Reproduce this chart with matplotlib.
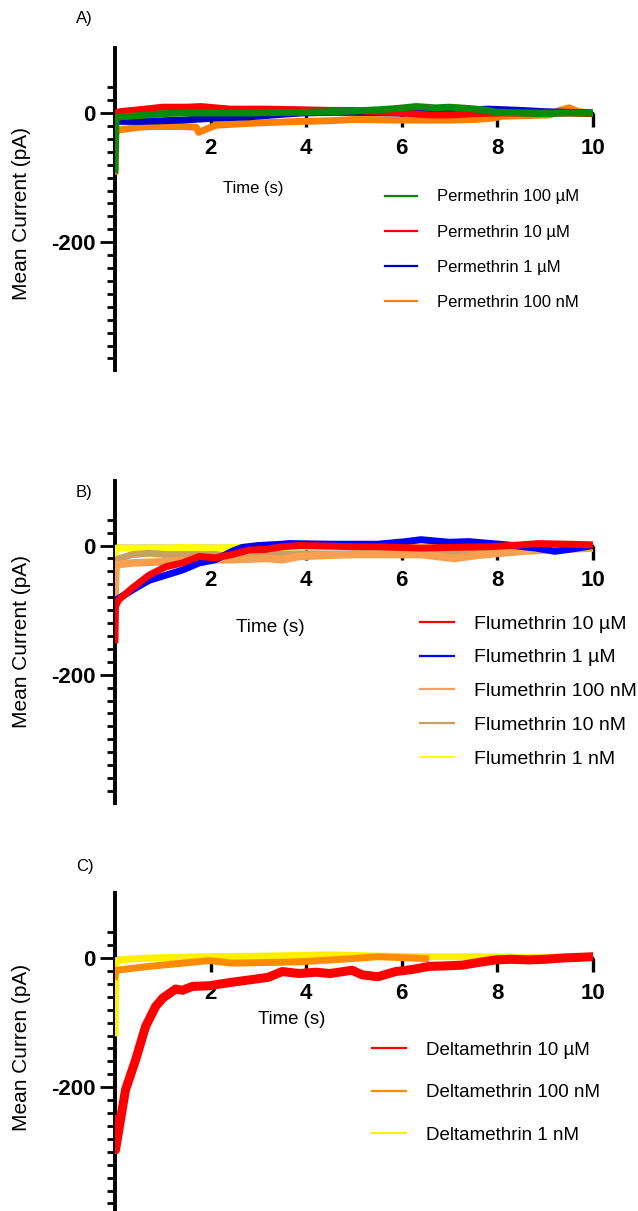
import matplotlib
matplotlib.use("Agg")
import matplotlib.pyplot as plt
from matplotlib.ticker import FixedLocator, FixedFormatter

plt.rcParams['font.family'] = ['Liberation Sans', 'DejaVu Sans']

W, H = 638, 1211

# ---------------- data ----------------
# Panel A: Permethrin
tA_100nM = [0, 0.02, 0.1, 0.5, 0.8, 1.4, 1.7, 1.75, 2.1, 2.8, 3.5, 3.9, 4.5, 5.0, 5.9, 7.0, 7.5, 7.9, 8.1, 8.6, 9.1, 9.3, 9.5, 9.7, 10]
vA_100nM = [-90, -28, -26, -22, -21, -21, -22, -30, -19, -16, -14, -13, -12, -10, -11, -11, -10, -8, -5, -4, -3, 4, 8, 2, 0]
tA_1uM = [0, 0.05, 0.5, 1.0, 1.4, 2.1, 2.8, 3.5, 3.9, 4.5, 5.0, 6.0, 7.0, 7.5, 7.8, 8.5, 9.0, 9.5, 10]
vA_1uM = [-15, -13, -13, -12, -11, -8, -6, -2, 0, 1, 1, 0, 2, 5, 6, 4, 2, 1, 0]
tA_10uM = [0, 0.02, 0.1, 0.5, 1.0, 1.5, 1.8, 2.4, 3.1, 3.9, 4.5, 5.0, 5.5, 6.0, 6.6, 7.0, 7.5, 8.0, 8.5, 9.0, 9.5, 10]
vA_10uM = [-5, 0, 2, 5, 9, 9, 10, 6, 6, 5, 4, 4, 2, 0, -3, -3, -1, 0, 0, 0, 0, -1]
tA_100uM = [0, 0.02, 0.1, 0.5, 0.7, 1.0, 1.4, 2.1, 2.8, 3.5, 3.9, 4.5, 5.0, 5.5, 5.9, 6.3, 6.7, 7.0, 7.4, 7.7, 8.0, 8.5, 9.0, 9.5, 10]
vA_100uM = [-88, -8, -6, -4, -3, -1, 0, 0, 0, 1, 1, 2, 3, 5, 7, 10, 8, 9, 7, 5, 1, 0, -1, 0, 0]

# Panel B: Flumethrin
tB_1nM = [0, 0.02, 0.5, 1.0, 1.5, 2.0, 2.5, 3.0, 4, 5, 6, 7, 7.3, 8, 9, 9.6, 10]
vB_1nM = [-20, -4, -4, -4, -3, -4, -3, -3, -2, -1, 0, 1, 3, 0, 0, 2, 0]
tB_10nM = [0, 0.02, 0.36, 0.71, 1.06, 1.41, 2.1, 2.45, 3.15, 3.85, 5, 6, 7, 8, 9, 10]
vB_10nM = [-80, -22, -14, -12, -14, -14, -14, -17, -14, -13, -13, -12, -13, -9, -5, -3]
tB_100nM = [0, 0.02, 0.36, 1.06, 1.76, 2.45, 3.15, 3.5, 3.85, 4.5, 5.0, 6.0, 6.4, 7.1, 7.6, 8.5, 9.2, 10]
vB_100nM = [-80, -30, -27, -25, -22, -22, -20, -22, -17, -15, -14, -14, -14, -20, -15, -9, -6, -4]
tB_1uM = [0, 0.03, 0.36, 0.71, 1.06, 1.41, 1.76, 2.1, 2.45, 2.66, 3.0, 3.5, 3.64, 4.5, 5.5, 6.08, 6.4, 7.0, 7.4, 8.2, 8.8, 9.2, 9.6, 10]
vB_1uM = [-90, -84, -69, -54, -46, -38, -27, -22, -9, -3, 0, 2, 3, 2, 2, 6, 9, 5, 6, 1, -4, -9, -5, 0]
tB_10uM = [0, 0.01, 0.08, 0.36, 0.71, 1.06, 1.41, 1.76, 2.1, 2.45, 2.8, 3.15, 3.5, 3.85, 4.5, 5.0, 5.5, 6.4, 7.0, 7.8, 8.5, 8.85, 9.5, 10]
vB_10uM = [-146, -94, -84, -66, -46, -33, -27, -17, -19, -14, -7, -6, -2, 0, -1, -2, -2, -4, -3, -2, 1, 3, 2, 1]

# Panel C: Deltamethrin
tC_1nM = [0, 0.02, 0.2, 0.71, 1.76, 3.15, 4.5, 5.5, 6.5, 7.5, 8.5, 9.5, 10]
vC_1nM = [-116, -4, -2, 0, 2, 3, 5, 3, 2, 2, 1, 1, 1]
tC_100nM = [0, 0.02, 0.71, 1.41, 1.97, 2.45, 3.15, 3.85, 4.5, 4.96, 5.5, 6.22, 6.5]
vC_100nM = [-28, -19, -13, -8, -4, -8, -7, -6, -3, -1, 2, 0, -1]
tC_10uM = [0, 0.01, 0.22, 0.43, 0.64, 0.85, 1.0, 1.27, 1.41, 1.62, 1.97, 2.4, 2.8, 3.2, 3.5, 3.85, 4.2, 4.5, 4.96, 5.17, 5.5, 5.87, 6.2, 6.57, 7.0, 7.27, 7.6, 7.96, 8.3, 8.66, 9.0, 9.36, 9.7, 10]
vC_10uM = [-250, -297, -204, -158, -106, -75, -62, -48, -50, -44, -43, -38, -34, -30, -21, -24, -22, -24, -19, -26, -29, -21, -18, -13, -12, -11, -7, -3, -2, -3, -2, 0, 1, 2]

x_ticks = [2, 4, 6, 8, 10]
x_ticklabels = ['2', '4', '6', '8', '10']
y_major = [-200, 0]
y_major_labels = ['-200', '0']
y_minor = [v for v in range(-380, 41, 20) if v not in (-200, 0)]

panels = [
    dict(letter='A)', ylabel='Mean Current (pA)',
         series=[(tA_100nM, vA_100nM, '#FF8000', 'Permethrin 100 nM', 5),
                 (tA_1uM, vA_1uM, '#0000C8', 'Permethrin 1 µM', 5),
                 (tA_10uM, vA_10uM, '#FF0000', 'Permethrin 10 µM', 5),
                 (tA_100uM, vA_100uM, '#0A8A0A', 'Permethrin 100 µM', 5)],
         legend_order=[3, 2, 1, 0]),
    dict(letter='B)', ylabel='Mean Current (pA)',
         series=[(tB_1nM, vB_1nM, '#FFFF00', 'Flumethrin 1 nM', 5),
                 (tB_10nM, vB_10nM, '#C9A063', 'Flumethrin 10 nM', 5),
                 (tB_100nM, vB_100nM, '#F8A050', 'Flumethrin 100 nM', 5.5),
                 (tB_1uM, vB_1uM, '#0000FF', 'Flumethrin 1 µM', 5),
                 (tB_10uM, vB_10uM, '#FF0000', 'Flumethrin 10 µM', 5)],
         legend_order=[4, 3, 2, 1, 0]),
    dict(letter='C)', ylabel='Mean Curren (pA)',
         series=[(tC_1nM, vC_1nM, '#FFF000', 'Deltamethrin 1 nM', 5),
                 (tC_100nM, vC_100nM, '#FF8C00', 'Deltamethrin 100 nM', 5),
                 (tC_10uM, vC_10uM, '#FF0000', 'Deltamethrin 10 µM', 6.5)],
         legend_order=[2, 1, 0]),
]

# layout (pixels)
zero_px = [113, 545.5, 958]
px_per_pA = 0.646
left_px, right_px = 115, 593
ylab_y = [213, 641, 1047]
time_pos = [(253, 189, 12), (270, 627, 13.7), (292, 1020, 13.4)]
letter_y = [18, 492, 866]
leg_cfg = [dict(x=385, top=189.5, fs=12, hl=1.92, htp=1.2, ls=1.21),
           dict(x=420, top=615, fs=14, hl=1.75, htp=1.03, ls=0.83),
           dict(x=372, top=1041.5, fs=13.5, hl=1.81, htp=1.07, ls=1.35)]

fig = plt.figure(figsize=(W / 100, H / 100), dpi=100)

for i, p in enumerate(panels):
    top_px = zero_px[i] - 100 * px_per_pA
    bot_px = zero_px[i] + 400 * px_per_pA
    ax = fig.add_axes([left_px / W, 1 - bot_px / H, (right_px - left_px) / W, (bot_px - top_px) / H])
    lines = []
    for t, v, c, lab, lw in p['series']:
        ln, = ax.plot(t, v, color=c, lw=lw, label=lab, zorder=3, solid_joinstyle='round')
        lines.append(ln)
    ax.set_xlim(0, 10)
    ax.set_ylim(-400, 100)
    for s in ['top', 'right']:
        ax.spines[s].set_visible(False)
    ax.spines['bottom'].set_position(('data', 0))
    ax.spines['bottom'].set_linewidth(1.7)
    ax.spines['left'].set_linewidth(2.8)
    ax.spines['left'].set_bounds(-398, 100)
    ax.xaxis.set_major_locator(FixedLocator(x_ticks))
    ax.xaxis.set_major_formatter(FixedFormatter(x_ticklabels))
    ax.yaxis.set_major_locator(FixedLocator(y_major))
    ax.yaxis.set_major_formatter(FixedFormatter(y_major_labels))
    ax.yaxis.set_minor_locator(FixedLocator(y_minor))
    ax.tick_params(axis='x', which='major', direction='out', length=10, width=2.4,
                   pad=8, labelsize=16)
    ax.tick_params(axis='y', which='major', direction='out', length=10.5, width=2.0,
                   pad=3.5, labelsize=16)
    ax.tick_params(axis='y', which='minor', direction='out', length=5.8, width=2.0)
    for lbl in ax.get_xticklabels() + ax.get_yticklabels():
        lbl.set_fontweight('bold')
    ax.patch.set_visible(False)

    cfg = leg_cfg[i]
    leg = ax.legend([lines[k] for k in p['legend_order']],
                    [p['series'][k][3] for k in p['legend_order']],
                    loc='upper left', bbox_to_anchor=(cfg['x'] / W, 1 - cfg['top'] / H),
                    bbox_transform=fig.transFigure, frameon=False, borderpad=0,
                    borderaxespad=0, handlelength=cfg['hl'], handletextpad=cfg['htp'],
                    labelspacing=cfg['ls'], fontsize=cfg['fs'])
    for l in leg.get_lines():
        l.set_linewidth(1.6)

    fig.text(22 / W, 1 - ylab_y[i] / H, p['ylabel'], rotation=90, ha='center', va='center', fontsize=15)
    tx, ty, tfs = time_pos[i]
    fig.text(tx / W, 1 - ty / H, 'Time (s)', ha='center', va='center', fontsize=tfs)
    fig.text(76 / W, 1 - letter_y[i] / H, p['letter'], ha='left', va='center', fontsize=12)

fig.savefig('out.png', dpi=100)
